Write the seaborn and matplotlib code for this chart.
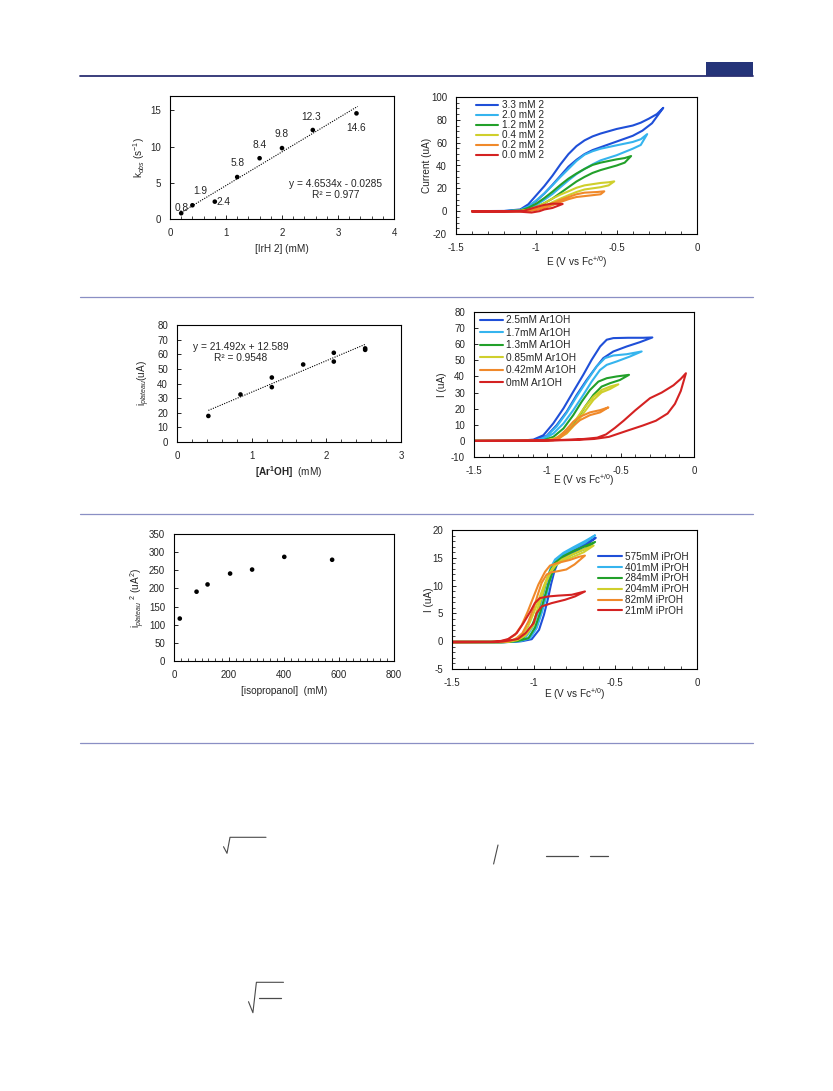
import numpy as np
import pandas as pd
import matplotlib
matplotlib.use("Agg")
import matplotlib.pyplot as plt
from matplotlib.lines import Line2D
from matplotlib.patches import Rectangle
from matplotlib.ticker import MultipleLocator, FuncFormatter
import seaborn as sns

# ---------------- data ----------------
# kinetics vs hydride concentration
irh_conc = [0.2, 0.4, 0.8, 1.2, 1.6, 2.0, 2.55, 3.33]
kobs = [0.8, 1.9, 2.4, 5.8, 8.4, 9.8, 12.3, 14.6]
kobs_fit = (4.6534, -0.0285, 0.977)

# plateau current vs phenol concentration
ar_conc = [0.42, 0.85, 1.27, 1.27, 1.69, 2.10, 2.10, 2.52, 2.52]
ar_iplat = [17.8, 32.5, 44.1, 37.5, 53.0, 61.0, 55.0, 64.0, 63.0]
ar_fit = (21.492, 12.589, 0.9548)

# squared plateau current vs isopropanol concentration
ipa_conc = [21, 82, 122, 204, 284, 401, 575]
ipa_iplat2 = [117, 191, 211, 241, 252, 287, 279]

# CVs, catalyst series
ir_labels = ["3.3 mM 2", "2.0 mM 2", "1.2 mM 2", "0.4 mM 2", "0.2 mM 2", "0.0 mM 2"]
ir_E = [
    [-1.40, -1.20, -1.12, -1.08, -1.04, -1.00, -0.95, -0.90, -0.85, -0.80, -0.75, -0.70, -0.65, -0.60, -0.50, -0.40, -0.34, -0.28, -0.21,
     -0.25, -0.30, -0.35, -0.40, -0.50, -0.60, -0.65, -0.70, -0.75, -0.80, -0.85, -0.90, -0.95, -1.00, -1.05, -1.10, -1.20, -1.40],
    [-1.40, -1.20, -1.12, -1.08, -1.04, -1.00, -0.95, -0.90, -0.85, -0.80, -0.75, -0.70, -0.65, -0.60, -0.50, -0.40, -0.35, -0.31,
     -0.35, -0.40, -0.50, -0.60, -0.65, -0.70, -0.75, -0.80, -0.85, -0.90, -0.95, -1.00, -1.05, -1.10, -1.20, -1.40],
    [-1.40, -1.20, -1.10, -1.05, -1.00, -0.95, -0.90, -0.85, -0.80, -0.75, -0.70, -0.65, -0.60, -0.50, -0.45, -0.41,
     -0.45, -0.50, -0.60, -0.65, -0.70, -0.75, -0.80, -0.85, -0.90, -0.95, -1.00, -1.05, -1.10, -1.20, -1.40],
    [-1.40, -1.20, -1.10, -1.05, -1.00, -0.95, -0.90, -0.85, -0.80, -0.75, -0.70, -0.60, -0.55, -0.515,
     -0.55, -0.60, -0.70, -0.75, -0.80, -0.85, -0.90, -0.95, -1.00, -1.05, -1.10, -1.20, -1.40],
    [-1.40, -1.10, -1.05, -1.00, -0.95, -0.90, -0.85, -0.80, -0.75, -0.65, -0.60, -0.577,
     -0.62, -0.70, -0.75, -0.80, -0.85, -0.90, -0.95, -1.00, -1.05, -1.10, -1.40],
    [-1.40, -1.10, -1.03, -0.98, -0.95, -0.90, -0.836,
     -0.87, -0.90, -0.95, -1.00, -1.05, -1.08, -1.20, -1.40],
]
ir_I = [
    [0.0, 0.0, 0.4, 1.5, 5.0, 9.0, 15.5, 23.0, 31.0, 39.0, 45.0, 50.0, 53.5, 56.0, 61.0, 66.0, 70.5, 77.0, 90.5,
     85.0, 81.0, 77.5, 75.0, 72.0, 68.0, 65.5, 62.0, 57.0, 50.0, 41.0, 31.0, 22.0, 14.0, 6.0, 1.5, 0.2, 0.0],
    [0.0, 0.0, 0.3, 1.2, 3.5, 5.5, 10.0, 15.0, 21.0, 27.0, 32.5, 37.0, 41.0, 44.5, 49.0, 54.7, 58.0, 67.5,
     63.0, 60.6, 57.7, 54.7, 52.5, 49.5, 44.0, 37.0, 30.0, 22.6, 15.5, 9.5, 4.0, 1.0, 0.1, 0.0],
    [0.0, 0.0, 0.2, 1.2, 3.6, 7.0, 11.0, 16.0, 21.0, 26.0, 30.0, 33.5, 36.0, 40.0, 42.5, 48.3,
     46.5, 45.4, 42.5, 40.5, 37.0, 33.0, 28.5, 23.0, 17.0, 11.5, 6.6, 3.0, 0.5, 0.0, 0.0],
    [0.0, 0.0, 0.1, 0.6, 1.6, 4.2, 7.8, 11.0, 14.0, 16.8, 19.0, 21.0, 22.6, 26.1,
     25.3, 24.7, 22.6, 20.5, 17.4, 14.5, 11.0, 7.0, 3.6, 1.2, 0.3, 0.0, 0.0],
    [0.0, 0.0, 0.3, 1.2, 2.8, 5.2, 8.0, 10.5, 12.4, 14.0, 14.8, 17.4,
     16.8, 16.2, 14.8, 12.4, 9.8, 6.6, 3.8, 1.6, 0.4, 0.0, 0.0],
    [-0.5, -0.5, -1.2, 0.0, 1.5, 2.8, 6.3,
     6.5, 6.6, 5.5, 3.6, 1.5, 0.3, 0.0, 0.0],
]

# CVs, phenol series
ar_labels = ["2.5mM Ar1OH", "1.7mM Ar1OH", "1.3mM Ar1OH", "0.85mM Ar1OH", "0.42mM Ar1OH", "0mM Ar1OH"]
ar_E = [
    [-1.50, -1.15, -1.07, -1.005, -0.936, -0.868, -0.80, -0.732, -0.664, -0.618, -0.55, -0.459, -0.368, -0.284,
     -0.345, -0.45, -0.55, -0.595, -0.64, -0.698, -0.755, -0.823, -0.89, -0.96, -1.027, -1.095, -1.20, -1.50],
    [-1.50, -1.15, -1.027, -0.959, -0.89, -0.823, -0.755, -0.698, -0.641, -0.595, -0.527, -0.436, -0.357,
     -0.459, -0.55, -0.607, -0.664, -0.732, -0.80, -0.868, -0.936, -1.005, -1.07, -1.20, -1.50],
    [-1.50, -1.10, -1.00, -0.936, -0.868, -0.80, -0.743, -0.686, -0.63, -0.573, -0.505, -0.443,
     -0.527, -0.595, -0.652, -0.709, -0.766, -0.823, -0.89, -0.959, -1.027, -1.20, -1.50],
    [-1.50, -1.10, -0.936, -0.868, -0.80, -0.743, -0.686, -0.63, -0.573, -0.516,
     -0.573, -0.63, -0.686, -0.743, -0.80, -0.868, -0.936, -1.00, -1.20, -1.50],
    [-1.50, -1.05, -0.959, -0.914, -0.868, -0.823, -0.777, -0.709, -0.64, -0.584,
     -0.64, -0.709, -0.777, -0.823, -0.868, -0.914, -0.959, -1.05, -1.50],
    [-1.50, -1.00, -0.80, -0.68, -0.58, -0.45, -0.35, -0.26, -0.18, -0.13, -0.09, -0.055,
     -0.09, -0.14, -0.22, -0.30, -0.40, -0.48, -0.54, -0.60, -0.66, -0.75, -0.90, -1.10, -1.50],
]
ar_I = [
    [0.0, 0.0, 0.4, 3.1, 9.8, 18.1, 28.5, 37.8, 46.2, 51.4, 55.5, 58.6, 61.3, 64.2,
     64.0, 64.0, 63.8, 62.8, 58.6, 50.3, 41.0, 30.6, 20.2, 10.8, 3.5, 0.8, 0.0, 0.0],
    [0.0, 0.0, 1.0, 4.6, 10.8, 19.1, 28.5, 36.8, 44.0, 47.2, 49.3, 52.4, 55.5,
     53.8, 53.0, 51.4, 46.2, 37.0, 27.5, 17.5, 9.0, 2.8, 0.3, 0.0, 0.0],
    [0.0, 0.0, 0.2, 1.5, 5.6, 12.9, 21.2, 28.5, 33.7, 35.8, 37.8, 41.0,
     40.0, 38.9, 36.8, 31.6, 24.3, 16.0, 7.7, 2.5, 0.4, 0.0, 0.0],
    [0.0, 0.0, 1.0, 4.6, 11.4, 18.5, 25.4, 30.1, 32.2, 35.1,
     33.7, 31.6, 27.4, 21.2, 13.9, 6.7, 1.9, 0.3, 0.0, 0.0],
    [0.0, 0.0, 0.4, 1.9, 5.2, 9.4, 12.9, 16.0, 17.7, 20.8,
     19.1, 17.7, 15.0, 11.9, 7.3, 3.1, 0.8, 0.0, 0.0],
    [0.0, 0.2, 0.6, 1.2, 2.5, 6.5, 9.5, 12.5, 17.0, 23.0, 31.0, 42.0,
     38.5, 34.5, 30.0, 26.5, 19.0, 12.5, 8.0, 4.0, 2.0, 1.2, 0.6, 0.2, 0.0],
]

# CVs, isopropanol series
ipa_labels = ["575mM iPrOH", "401mM iPrOH", "284mM iPrOH", "204mM iPrOH", "82mM iPrOH", "21mM iPrOH"]
ipa_E = [
    [-1.50, -1.20, -1.12, -1.073, -1.012, -0.967, -0.937, -0.914, -0.894, -0.873, -0.853, -0.818, -0.757, -0.686, -0.62,
     -0.686, -0.757, -0.818, -0.865, -0.89, -0.91, -0.93, -0.955, -0.986, -1.028, -1.083, -1.14, -1.20, -1.50],
    [-1.50, -1.20, -1.13, -1.083, -1.022, -0.982, -0.951, -0.926, -0.904, -0.879, -0.859, -0.818, -0.757, -0.686, -0.624,
     -0.686, -0.757, -0.818, -0.869, -0.896, -0.92, -0.945, -0.971, -1.002, -1.049, -1.104, -1.15, -1.20, -1.50],
    [-1.50, -1.20, -1.14, -1.094, -1.032, -0.992, -0.961, -0.935, -0.91, -0.886, -0.859, -0.818, -0.757, -0.686, -0.624,
     -0.686, -0.757, -0.818, -0.869, -0.90, -0.926, -0.951, -0.977, -1.012, -1.063, -1.114, -1.16, -1.20, -1.50],
    [-1.50, -1.20, -1.15, -1.10, -1.05, -1.00, -0.98, -0.953, -0.929, -0.898, -0.867, -0.826, -0.765, -0.694, -0.633,
     -0.694, -0.765, -0.826, -0.877, -0.908, -0.939, -0.969, -1.00, -1.034, -1.081, -1.132, -1.17, -1.22, -1.50],
    [-1.50, -1.22, -1.16, -1.114, -1.069, -1.032, -1.00, -0.975, -0.951, -0.92, -0.89, -0.85, -0.80, -0.75, -0.686,
     -0.72, -0.78, -0.85, -0.90, -0.93, -0.971, -1.00, -1.036, -1.073, -1.114, -1.165, -1.21, -1.26, -1.50],
    [-1.50, -1.24, -1.19, -1.155, -1.096, -1.05, -1.00, -0.982, -0.951, -0.89, -0.808, -0.747, -0.686,
     -0.767, -0.849, -0.91, -0.962, -0.993, -1.02, -1.063, -1.104, -1.155, -1.20, -1.26, -1.50],
]
ipa_I = [
    [-0.2, -0.2, -0.1, 0.0, 0.36, 2.05, 4.75, 7.45, 10.2, 12.6, 14.1, 15.1, 16.0, 17.1, 18.6,
     17.5, 16.5, 15.6, 14.4, 12.9, 10.5, 7.75, 5.05, 2.35, 0.54, 0.05, -0.05, -0.1, -0.1],
    [-0.2, -0.2, -0.1, 0.0, 0.54, 2.35, 5.05, 7.75, 10.5, 12.9, 14.5, 15.6, 16.6, 17.7, 19.05,
     18.0, 16.9, 15.9, 14.7, 13.2, 10.75, 8.05, 5.35, 2.75, 0.66, 0.08, -0.05, -0.1, -0.1],
    [-0.2, -0.2, -0.1, 0.05, 0.54, 2.45, 5.05, 7.75, 10.2, 12.3, 13.9, 14.8, 15.7, 16.6, 17.85,
     17.1, 16.2, 15.3, 14.1, 12.6, 10.5, 8.05, 5.35, 2.65, 0.66, 0.1, -0.05, -0.1, -0.1],
    [-0.2, -0.2, -0.1, 0.2, 1.0, 2.95, 5.35, 7.75, 10.2, 12.3, 13.6, 14.4, 15.1, 16.0, 17.2,
     16.5, 15.6, 14.7, 13.5, 12.0, 9.85, 7.45, 5.05, 2.65, 0.84, 0.15, -0.05, -0.1, -0.1],
    [-0.2, -0.15, -0.05, 0.3, 1.45, 3.55, 5.95, 8.35, 10.5, 12.0, 12.4, 12.6, 12.9, 13.8, 15.4,
     15.2, 14.6, 14.1, 13.6, 12.5, 10.2, 8.05, 5.35, 2.9, 1.15, 0.2, -0.05, -0.1, -0.1],
    [-0.2, -0.15, -0.05, 0.1, 0.4, 1.45, 3.25, 5.05, 6.25, 6.85, 7.45, 8.05, 8.95,
     8.35, 8.2, 8.05, 7.75, 6.85, 5.35, 3.25, 1.45, 0.4, 0.05, -0.1, -0.1],
]

cv_colors = ["#1f4fd8", "#35b4ee", "#22a02a", "#cfcf2c", "#f0892a", "#d42222"]

# ---------------- style ----------------
sns.set_style("white")
plt.rcParams["font.family"] = ["Liberation Sans", "DejaVu Sans"]
plt.rcParams["mathtext.fontset"] = "custom"
plt.rcParams["mathtext.rm"] = "Liberation Sans"
plt.rcParams["mathtext.it"] = "Liberation Sans:italic"
plt.rcParams["mathtext.bf"] = "Liberation Sans:bold"
plt.rcParams["axes.unicode_minus"] = False

W, H = 833, 1091
TICK_FS = 7
LAB_FS = 7.2
fig = plt.figure(figsize=(W / 100, H / 100), dpi=100)
fig.patch.set_facecolor("white")


def add_ax(x0, y0, x1, y1):
    return fig.add_axes([x0 / W, 1 - y1 / H, (x1 - x0) / W, (y1 - y0) / H])


def style_ax(ax, xlim, ylim, xmaj, ymaj, xmin=None, ymin=None):
    ax.set_xlim(*xlim)
    ax.set_ylim(*ylim)
    ax.xaxis.set_major_locator(MultipleLocator(xmaj))
    ax.yaxis.set_major_locator(MultipleLocator(ymaj))
    if xmin:
        ax.xaxis.set_minor_locator(MultipleLocator(xmin))
    if ymin:
        ax.yaxis.set_minor_locator(MultipleLocator(ymin))
    fmt = FuncFormatter(lambda v, p: f"{v:g}")
    ax.xaxis.set_major_formatter(fmt)
    ax.yaxis.set_major_formatter(fmt)
    for s in ax.spines.values():
        s.set_color("black")
        s.set_linewidth(0.8)
    ax.tick_params(which="major", direction="in", length=3, width=0.7,
                   labelsize=TICK_FS, pad=6.5, bottom=True, left=True, top=False, right=False)
    ax.tick_params(which="minor", direction="in", length=2, width=0.6,
                   bottom=True, left=True, top=False, right=False)
    ax.grid(False)
    ax.set_facecolor("white")


def draw_cvs(ax, E_list, I_list, labels):
    for E, I, lab, c in zip(E_list, I_list, labels, cv_colors):
        df = pd.DataFrame({"E": E, "I": I})
        sns.lineplot(data=df, x="E", y="I", sort=False, estimator=None, ax=ax,
                     color=c, lw=1.5, label=lab)


# ---------------- panel: kobs vs [IrH 2] ----------------
ax1 = add_ax(170, 96, 394, 219)
style_ax(ax1, (0, 4), (0, 17), 1, 5, xmin=0.2)
sns.scatterplot(x=irh_conc, y=kobs, ax=ax1, color="black", s=11, edgecolor="none", zorder=3)
a, b, r2 = kobs_fit
fx = np.array([irh_conc[0], 3.35])
sns.lineplot(x=fx, y=a * fx + b, ax=ax1, color="black", lw=0.8, linestyle=(0, (1, 1.2)))
offsets = [(0, -5), (8, -14), (9, 0), (0, -14), (0, -13), (0, -14), (-2, -13), (0, 15)]
for xv, yv, (dx, dy) in zip(irh_conc, kobs, offsets):
    ax1.annotate(f"{yv:.1f}", (xv, yv), xytext=(dx, -dy), textcoords="offset pixels",
                 ha="center", va="center", fontsize=7.3)
ax1.text(2.96, 4.8, f"y = {a}x - {abs(b)}", ha="center", va="center", fontsize=7.3)
ax1.text(2.96, 3.3, f"R² = {r2}", ha="center", va="center", fontsize=7.3)
ax1.set_xlabel("[IrH 2] (mM)", fontsize=LAB_FS, labelpad=4)
ax1.set_ylabel(r"k$_{obs}$ (s$^{-1}$)", fontsize=LAB_FS, labelpad=2)

# ---------------- panel: CVs catalyst ----------------
ax2 = add_ax(456, 97, 697, 234)
style_ax(ax2, (-1.5, 0), (-20, 100), 0.5, 20, xmin=0.1, ymin=5)
draw_cvs(ax2, ir_E, ir_I, ir_labels)
ax2.legend(loc="upper left", bbox_to_anchor=(0.085, 0.975), frameon=False, fontsize=7.2,
           handlelength=2.2, handletextpad=0.35, labelspacing=0.0, borderpad=0, borderaxespad=0)
ax2.set_xlabel(r"E (V vs Fc$^{+/0}$)", fontsize=LAB_FS, labelpad=0.5)
ax2.set_ylabel("Current (uA)", fontsize=LAB_FS, labelpad=-1)

# ---------------- panel: plateau current vs phenol ----------------
ax3 = add_ax(177, 325, 401, 442)
style_ax(ax3, (0, 3), (0, 80), 1, 10, xmin=0.2)
sns.scatterplot(x=ar_conc, y=ar_iplat, ax=ax3, color="black", s=11, edgecolor="none", zorder=3)
a, b, r2 = ar_fit
fx = np.array([ar_conc[0], ar_conc[-1]])
sns.lineplot(x=fx, y=a * fx + b, ax=ax3, color="black", lw=0.8, linestyle=(0, (1, 1.2)))
ax3.text(0.85, 65.2, f"y = {a}x + {b}", ha="center", va="center", fontsize=7.3)
ax3.text(0.85, 57.2, f"R² = {r2}", ha="center", va="center", fontsize=7.3)
ax3.set_xlabel(r"$\mathbf{[Ar^1OH]}$  (mM)", fontsize=LAB_FS, labelpad=2)
ax3.set_ylabel(r"i$_{plateau}$(uA)", fontsize=LAB_FS, labelpad=3.5)

# ---------------- panel: CVs phenol ----------------
ax4 = add_ax(474, 312, 694, 457)
style_ax(ax4, (-1.5, 0), (-10, 80), 0.5, 10, xmin=0.1)
draw_cvs(ax4, ar_E, ar_I, ar_labels)
ax4.legend(loc="upper left", bbox_to_anchor=(0.027, 0.978), frameon=False, fontsize=7.3,
           handlelength=2.3, handletextpad=0.3, labelspacing=0.25, borderpad=0, borderaxespad=0)
ax4.set_xlabel(r"E (V vs Fc$^{+/0}$)", fontsize=LAB_FS, labelpad=-2.5)
ax4.set_ylabel("I (uA)", fontsize=LAB_FS, labelpad=3)

# ---------------- panel: plateau current squared vs isopropanol ----------------
ax5 = add_ax(174, 534, 394, 661)
style_ax(ax5, (0, 800), (0, 350), 200, 50, xmin=25)
sns.scatterplot(x=ipa_conc, y=ipa_iplat2, ax=ax5, color="black", s=11, edgecolor="none", zorder=3)
ax5.set_xlabel("[isopropanol]  (mM)", fontsize=LAB_FS, labelpad=4)
ax5.set_ylabel(r"i$_{plateau}$ $^{2}$ (uA$^{2}$)", fontsize=LAB_FS, labelpad=1.5)

# ---------------- panel: CVs isopropanol ----------------
ax6 = add_ax(452, 530, 697, 669)
style_ax(ax6, (-1.5, 0), (-5, 20), 0.5, 5, xmin=0.1, ymin=1)
draw_cvs(ax6, ipa_E, ipa_I, ipa_labels)
ax6.legend(loc="upper left", bbox_to_anchor=(0.596, 0.843), frameon=False, fontsize=7.2,
           handlelength=2.4, handletextpad=0.3, labelspacing=0.08, borderpad=0, borderaxespad=0)
ax6.set_xlabel(r"E (V vs Fc$^{+/0}$)", fontsize=LAB_FS, labelpad=-1)
ax6.set_ylabel("I (uA)", fontsize=LAB_FS, labelpad=-1)

# ---------------- page rules ----------------
def fig_line(xs, ys, color, lw):
    fig.add_artist(Line2D([x / W for x in xs], [1 - y / H for y in ys],
                          transform=fig.transFigure, color=color, lw=lw))


fig_line([80, 753], [76, 76], "#2b2f72", 1.3)
fig.add_artist(Rectangle((706 / W, 1 - 76 / H), 47 / W, 14 / H, transform=fig.transFigure,
                         facecolor="#253479", edgecolor="none"))
for yy in (297, 514, 743):
    fig_line([80, 753], [yy, yy], "#8a8fc4", 0.9)

# equation remnants below the figures
grey = "#4a4a4a"
fig_line([223.5, 227, 230, 266], [846.7, 853.3, 837.3, 837.3], grey, 0.8)
fig_line([493.6, 498], [864, 845], grey, 0.8)
fig_line([546, 578], [855.7, 855.7], grey, 0.9)
fig_line([590, 608], [855.7, 855.7], grey, 0.9)
fig_line([248.5, 252.9, 256.4, 283.5], [1001.7, 1012.7, 982.3, 982.3], grey, 0.8)
fig_line([259.4, 281.3], [997.7, 997.7], grey, 0.9)

fig.savefig("out.png", dpi=100, facecolor="white")
